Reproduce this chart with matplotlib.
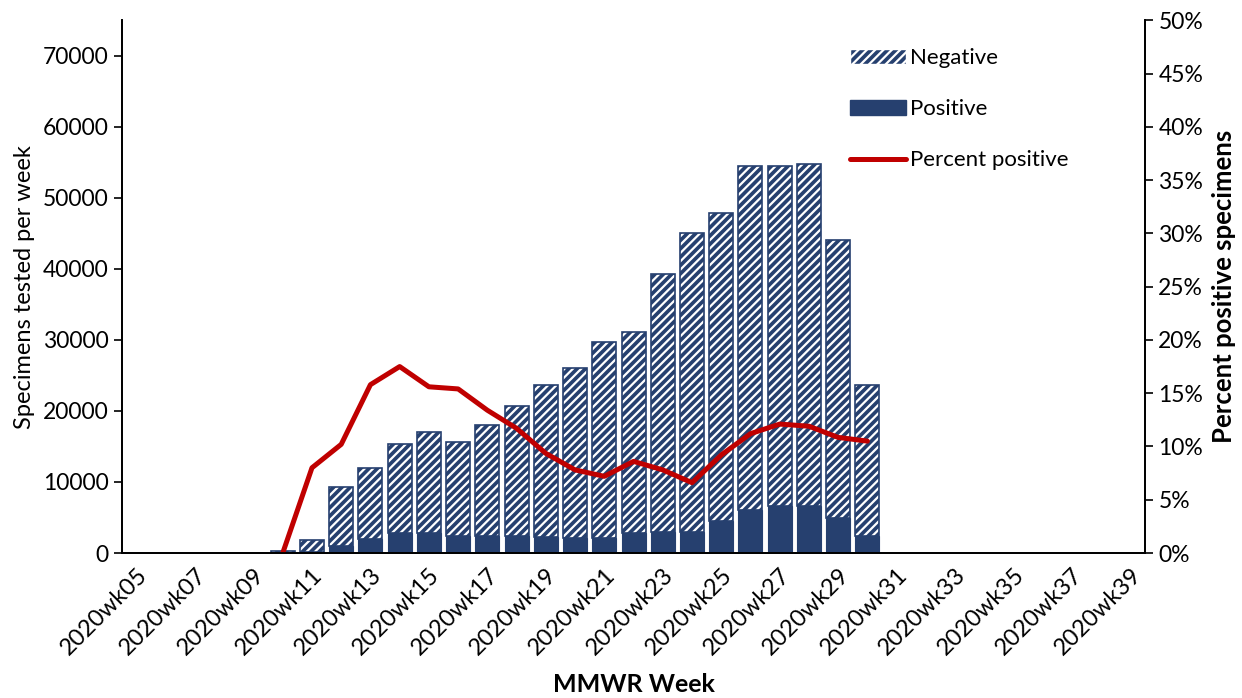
import numpy as np
import matplotlib
matplotlib.use("Agg")
import matplotlib.pyplot as plt
from matplotlib.patches import Patch
from matplotlib.lines import Line2D

weeks = ["2020wk%02d" % w for w in range(5, 40)]

# weeks 2020wk10 .. 2020wk30 have data
data_weeks = ["2020wk%02d" % w for w in range(10, 31)]
positive = [0, 150, 980, 1930, 2770, 2800, 2430, 2430, 2430, 2200, 2150,
            2150, 2770, 3000, 3000, 4540, 6040, 6650, 6650, 4870, 2430]
total = [300, 1830, 9320, 12000, 15280, 17100, 15600, 18000, 20660, 23700, 26050,
         29660, 31160, 39260, 44980, 47930, 54540, 54540, 54820, 44040, 23660]
negative = [t - p for t, p in zip(total, positive)]
pct_positive = [0.0, 8.0, 10.2, 15.8, 17.5, 15.6, 15.4, 13.4, 11.7, 9.35, 7.8,
                7.2, 8.6, 7.8, 6.6, 9.2, 11.2, 12.1, 11.9, 10.85, 10.5]

navy = "#26406F"
red = "#C00000"

plt.rcParams["font.family"] = ["Lato", "DejaVu Sans"]
plt.rcParams["hatch.linewidth"] = 1.6
plt.rcParams["hatch.color"] = "white"

fig = plt.figure(figsize=(12.42, 6.98), dpi=100)
ax = fig.add_axes([0.0982, 0.2077, 0.8238, 0.7633])
ax2 = ax.twinx()

idx = [weeks.index(w) for w in data_weeks]
x = np.arange(len(weeks))

ax.bar(idx, positive, width=0.82, color=navy, edgecolor=navy, linewidth=0.8)
ax.bar(idx, negative, bottom=positive, width=0.82, color=navy,
       edgecolor="white", hatch="////", linewidth=0)
ax.bar(idx, negative, bottom=positive, width=0.82, fill=False,
       edgecolor=navy, linewidth=1.2)

ax2.plot(idx, pct_positive, color=red, linewidth=3.6, solid_capstyle="round",
         solid_joinstyle="round")

ax.set_xlim(-0.5, len(weeks) - 0.5)
ax.set_ylim(0, 75000)
ax2.set_ylim(0, 50)
ax.set_yticks(range(0, 70001, 10000))
ax2.set_yticks(range(0, 51, 5))
ax2.set_yticklabels(["%d%%" % v for v in range(0, 51, 5)])

ax.set_xticks(x[::2])
ax.set_xticklabels(weeks[::2], rotation=45, ha="right", rotation_mode="anchor")
ax.tick_params(axis="x", length=0, labelsize=17, pad=8)
ax.tick_params(axis="y", direction="out", length=6, labelsize=16.5, width=1.2)
ax2.tick_params(axis="y", direction="out", length=6, labelsize=16.5, width=1.2)

for a in (ax, ax2):
    a.spines["top"].set_visible(False)
    for s in a.spines.values():
        s.set_linewidth(1.3)

ax.set_xlabel("MMWR Week", fontsize=18, fontweight="bold", labelpad=10)
ax.set_ylabel("Specimens tested per week", fontsize=17, labelpad=6)
ax2.set_ylabel("Percent positive specimens", fontsize=18.5, fontweight="bold",
               labelpad=6)

handles = [
    Patch(facecolor=navy, edgecolor="white", hatch="////"),
    Patch(facecolor=navy, edgecolor=navy),
    Line2D([0], [0], color=red, linewidth=3.6, solid_capstyle="round"),
]
ax2.legend(handles, ["Negative", "Positive", "Percent positive"],
           loc="upper left", bbox_to_anchor=(0.692, 0.985), frameon=False,
           fontsize=16, labelspacing=1.4, handlelength=2.5, handletextpad=0.2)

fig.savefig("out.png", dpi=100)
